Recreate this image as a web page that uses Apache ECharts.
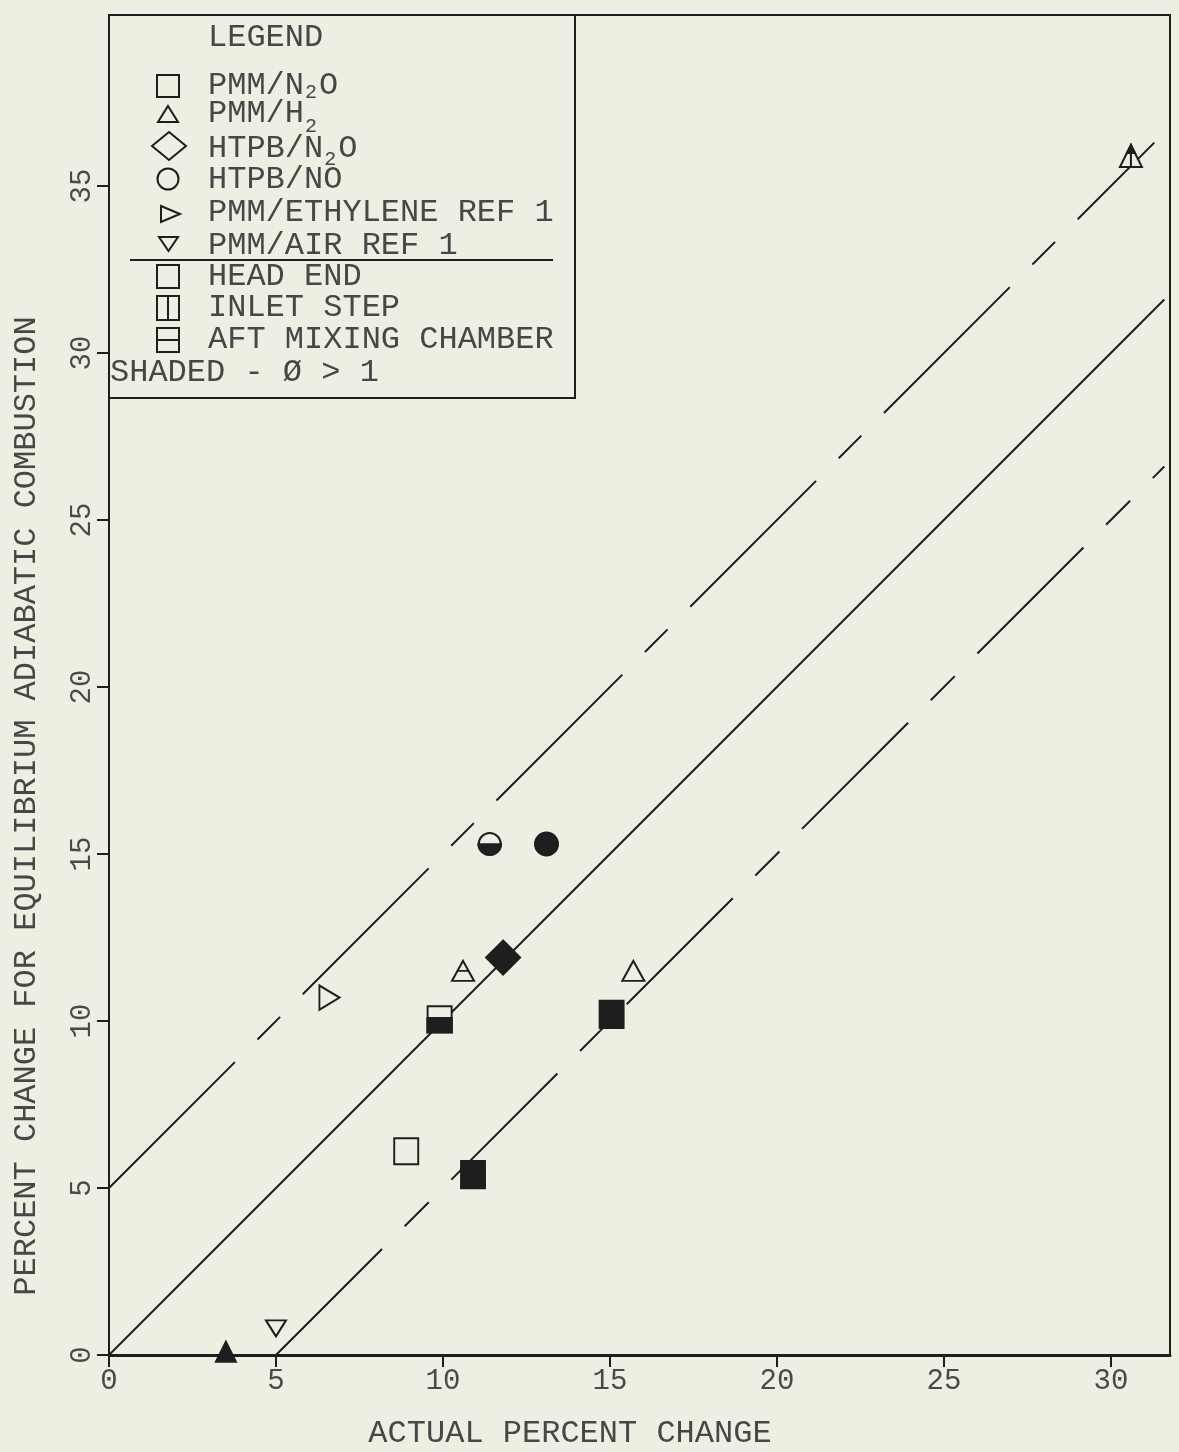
<!DOCTYPE html>
<html><head><meta charset="utf-8">
<script src="https://cdn.jsdelivr.net/npm/echarts@6/dist/echarts.min.js"></script>
<style>html,body{margin:0;padding:0;background:#eeeee2;}#c{width:1179px;height:1452px;}</style>
</head><body><div id="c"></div>
<script>
// ---- data ----
const xTicks = [0, 5, 10, 15, 20, 25, 30];
const yTicks = [0, 5, 10, 15, 20, 25, 30, 35];
const xTitle = 'ACTUAL PERCENT CHANGE';
const yTitle = 'PERCENT CHANGE FOR EQUILIBRIUM ADIABATIC COMBUSTION';

const perfectLine = [[0, 0], [31.6, 31.6]];
const upperBand = [[0, 5], [31.3, 36.3]];
const lowerBand = [[5, 0], [31.6, 26.6]];

const openSquares = [[8.9, 6.1]];
const filledSquares = [[10.9, 5.4], [15.05, 10.2]];
const halfSquares = [[9.9, 10.05]];
const openTriangles = [[15.7, 11.5]];
const barTriangles = [[10.6, 11.5]];
const inletTriangles = [[30.6, 35.9]];
const filledTriangles = [[3.5, 0.1]];
const filledDiamonds = [[11.8, 11.9]];
const halfCircles = [[11.4, 15.3]];
const filledCircles = [[13.1, 15.3]];
const ethyleneRef = [[6.6, 10.7]];
const airRef = [[5.0, 0.8]];

const legendTitle = 'LEGEND';
const fuelRows = ['PMM/N_2O', 'PMM/H_2', 'HTPB/N_2O', 'HTPB/NO', 'PMM/ETHYLENE REF 1', 'PMM/AIR REF 1'];
const locationRows = ['HEAD END', 'INLET STEP', 'AFT MIXING CHAMBER'];
const shadedNote = 'SHADED - Ø > 1';

// ---- style ----
const BG = '#eeeee2';
const INK = '#1e1e1e';
const TXT = '#474747';
const FONT = '"Liberation Mono","DejaVu Sans Mono",monospace';

const chart = echarts.init(document.getElementById('c'));

function sc(name, data, symbol, size, fill, extra) {
  return Object.assign({
    name, type: 'scatter', data, symbol, symbolSize: size,
    itemStyle: { color: fill, borderColor: INK, borderWidth: 2, opacity: 1 },
    z: 5, silent: true
  }, extra || {});
}
function ln(name, data, type, offset) {
  return {
    name, type: 'line', data, showSymbol: false, symbol: 'none', silent: true,
    lineStyle: { color: INK, width: 2, type: type, dashOffset: offset || 0 }, z: 3
  };
}

// legend graphics
const g = [];
const LX = 208, CW = 19.2, FS = 32;
function txt(s, x, y, fs) {
  g.push({ type: 'text', x: x, y: y, z: 20, silent: true,
    style: { text: s, fill: TXT, font: (fs || FS) + 'px ' + FONT,
      align: 'left', verticalAlign: 'middle', textAlign: 'left', textVerticalAlign: 'middle' } });
}
function rowText(s, y, subDrop) {
  const i = s.indexOf('_');
  if (i < 0) { txt(s, LX, y); return; }
  const head = s.slice(0, i), sub = s[i + 1], tail = s.slice(i + 2);
  txt(head, LX, y);
  const sx = LX + head.length * CW + 1;
  txt(sub, sx, y + subDrop, 20);
  if (tail) txt(tail, sx + 14, y);
}
g.push({ type: 'rect', z: 15, silent: true, shape: { x: 109, y: 15, width: 466, height: 383 },
  style: { fill: BG, stroke: INK, lineWidth: 2 } });
txt(legendTitle, LX, 38);
const fuelY = [86, 114, 149, 180, 213, 246];
const subDrops = [7, 13, 11, 0, 0, 0];
fuelRows.forEach((s, k) => rowText(s, fuelY[k], subDrops[k]));
const locY = [277, 308, 340];
locationRows.forEach((s, k) => txt(s, LX, locY[k]));
txt(shadedNote, 110, 373);
g.push({ type: 'line', z: 20, silent: true, shape: { x1: 130, y1: 260, x2: 553, y2: 260 }, style: { stroke: INK, lineWidth: 2 } });
const ms = { fill: 'none', stroke: INK, lineWidth: 2 };
g.push({ type: 'rect', z: 20, silent: true, shape: { x: 157, y: 75, width: 22, height: 22 }, style: ms });
g.push({ type: 'polygon', z: 20, silent: true, shape: { points: [[168, 106], [178, 122], [158, 122]] }, style: ms });
g.push({ type: 'polygon', z: 20, silent: true, shape: { points: [[169, 132], [186, 146], [169, 160], [152, 146]] }, style: ms });
g.push({ type: 'circle', z: 20, silent: true, shape: { cx: 168, cy: 179, r: 10.5 }, style: ms });
g.push({ type: 'polygon', z: 20, silent: true, shape: { points: [[161, 206], [180, 214], [161, 222]] }, style: ms });
g.push({ type: 'polygon', z: 20, silent: true, shape: { points: [[159, 237], [178, 237], [168.5, 251]] }, style: ms });
g.push({ type: 'rect', z: 20, silent: true, shape: { x: 157, y: 265, width: 22, height: 23 }, style: ms });
g.push({ type: 'rect', z: 20, silent: true, shape: { x: 157, y: 296, width: 22, height: 24 }, style: ms });
g.push({ type: 'line', z: 20, silent: true, shape: { x1: 168, y1: 296, x2: 168, y2: 320 }, style: ms });
g.push({ type: 'rect', z: 20, silent: true, shape: { x: 157, y: 328, width: 22, height: 24 }, style: ms });
g.push({ type: 'line', z: 20, silent: true, shape: { x1: 157, y1: 340, x2: 179, y2: 340 }, style: ms });
// axis titles
g.push({ type: 'text', x: 570, y: 1434, z: 20, silent: true,
  style: { text: xTitle, fill: TXT, font: '32px ' + FONT, align: 'center', verticalAlign: 'middle', textAlign: 'center', textVerticalAlign: 'middle' } });
g.push({ type: 'text', x: 27, y: 806, rotation: Math.PI / 2, z: 20, silent: true,
  style: { text: yTitle, fill: TXT, font: '32px ' + FONT, align: 'center', verticalAlign: 'middle', textAlign: 'center', textVerticalAlign: 'middle' } });

const option = {
  backgroundColor: BG,
  animation: false,
  grid: { left: 109, right: 9, top: 15, bottom: 97, show: true, borderColor: INK, borderWidth: 2, backgroundColor: 'transparent' },
  xAxis: {
    type: 'value', min: 0, max: 31.77, interval: 5,
    axisLine: { show: true, onZero: false, lineStyle: { color: INK, width: 3 } },
    axisTick: { show: true, length: 12, customValues: xTicks, lineStyle: { color: INK, width: 2 } },
    axisLabel: { customValues: xTicks, fontFamily: FONT, fontSize: 29, color: '#4a4a4a', margin: 12,
      formatter: v => (v > 30 ? '' : String(v)) },
    splitLine: { show: false }
  },
  yAxis: {
    type: 'value', min: 0, max: 40.12, interval: 5,
    axisLine: { show: true, onZero: false, lineStyle: { color: INK, width: 2 } },
    axisTick: { show: true, length: 12, customValues: yTicks, lineStyle: { color: INK, width: 2 } },
    axisLabel: { customValues: yTicks, rotate: 90, fontFamily: FONT, fontSize: 29, color: '#4a4a4a', margin: 12,
      formatter: v => (v > 35 ? '' : String(v)) },
    splitLine: { show: false }
  },
  graphic: { elements: g },
  series: [
    ln('y = x', perfectLine, 'solid'),
    ln('y = x + 5', upperBand, [178, 32, 32, 32], 0),
    ln('y = x - 5', lowerBand, [150, 32, 34, 32], 0),
    sc('PMM/N2O head end', openSquares, 'rect', [24, 26], BG),
    sc('PMM/N2O shaded', filledSquares, 'rect', [24, 27], INK),
    sc('PMM/N2O aft outline', halfSquares, 'rect', [24, 26], BG),
    sc('PMM/N2O aft shaded', halfSquares, 'rect', [24, 15], INK, { symbolOffset: [0, 6] }),
    sc('PMM/H2 open', openTriangles, 'triangle', [22, 20], BG),
    sc('PMM/H2 aft', barTriangles, 'path://M10,0 L20,18 L0,18 Z M5,9 L15,9', [22, 20], BG),
    sc('PMM/H2 inlet', inletTriangles, 'path://M10,0 L20,18 L0,18 Z M10,0 L10,18', [22, 22], BG),
    sc('PMM/H2 inlet tip', inletTriangles, 'triangle', [8, 8], INK, { symbolOffset: [0, -7] }),
    sc('PMM/H2 shaded', filledTriangles, 'triangle', [20, 20], INK),
    sc('HTPB/N2O', filledDiamonds, 'diamond', [34, 34], INK),
    sc('HTPB/NO aft outline', halfCircles, 'circle', 22, BG),
    sc('HTPB/NO aft shaded', halfCircles, 'path://M0,10 A10,10 0 0 0 20,10 Z', [22, 11], INK, { symbolOffset: [0, 5.5] }),
    sc('HTPB/NO shaded', filledCircles, 'circle', 23, INK),
    sc('PMM/ETHYLENE REF 1', ethyleneRef, 'triangle', [24, 20], BG, { symbolRotate: -90 }),
    sc('PMM/AIR REF 1', airRef, 'triangle', [20, 16], BG, { symbolRotate: 180 })
  ]
};
chart.setOption(option);
</script></body></html>
